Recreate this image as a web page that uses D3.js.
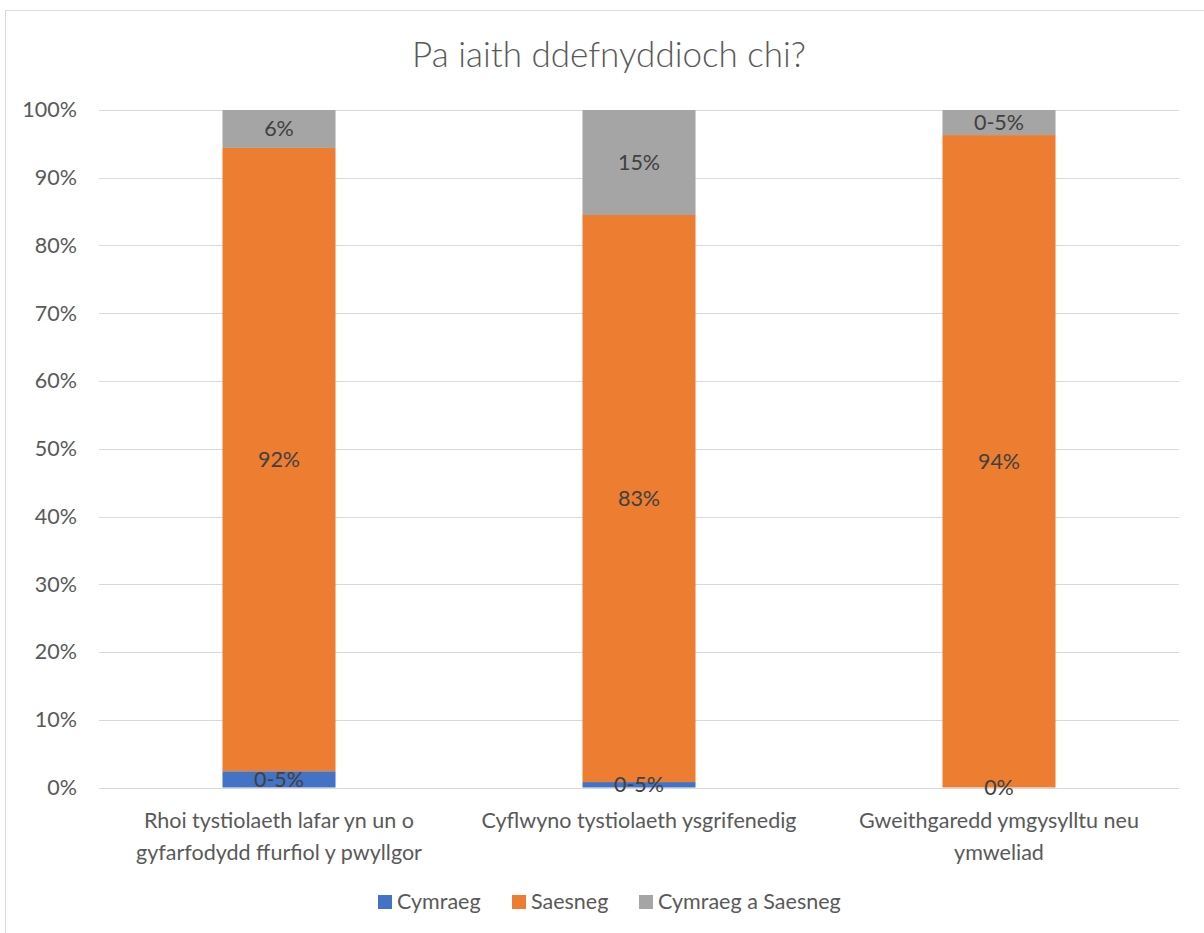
<!DOCTYPE html>
<html><head><meta charset="utf-8">
<script src="https://cdn.jsdelivr.net/npm/d3@7"></script>
<style>body{margin:0;background:#fff;} svg{display:block;}</style>
</head><body>
<svg id="c" width="1204" height="933"></svg>
<script>
const categories = [
  ["Rhoi tystiolaeth lafar yn un o", "gyfarfodydd ffurfiol y pwyllgor"],
  ["Cyflwyno tystiolaeth ysgrifenedig"],
  ["Gweithgaredd ymgysylltu neu", "ymweliad"]
];
const seriesNames = ["Cymraeg", "Saesneg", "Cymraeg a Saesneg"];
const cymraeg = [2.4, 0.8, 0];
const saesneg = [92.0, 83.7, 96.3];
const cymraegASaesneg = [5.6, 15.5, 3.7];
const labelsCymraeg = ["0-5%", "0-5%", "0%"];
const labelsSaesneg = ["92%", "83%", "94%"];
const labelsBoth = ["6%", "15%", "0-5%"];
const yTicks = [0,10,20,30,40,50,60,70,80,90,100];
const colors = ["#4472C4", "#ED7D31", "#A5A5A5"];

const font = "Lato, 'Open Sans', sans-serif";
const fs = "21.5px";
const svg = d3.select("#c");
svg.append("rect").attr("x",5.5).attr("y",10.5).attr("width",1220).attr("height",940)
  .attr("fill","#fff").attr("stroke","#D9D9D9").attr("stroke-width",1);

const x = d3.scaleBand().domain(d3.range(3)).range([99,1179]).paddingInner(0.686).paddingOuter(0.343);
const y = d3.scaleLinear().domain([0,100]).range([787.5,110]);

svg.append("g").selectAll("line").data(yTicks).join("line")
  .attr("x1",99).attr("x2",1179).attr("y1",d=>Math.round(y(d))+0.5).attr("y2",d=>Math.round(y(d))+0.5)
  .attr("stroke","#D9D9D9").attr("stroke-width",1);

const yAxis = d3.axisLeft(y).tickValues(yTicks).tickFormat(d=>d+"%").tickSize(0).tickPadding(0);
const ga = svg.append("g").attr("transform","translate(77,0)").call(yAxis);
ga.select(".domain").remove();
ga.selectAll("text").attr("font-family",font).attr("font-size",fs).attr("fill","#595959");

const data = d3.range(3).map(i=>({Cymraeg:cymraeg[i], Saesneg:saesneg[i], "Cymraeg a Saesneg":cymraegASaesneg[i]}));
const stack = d3.stack().keys(seriesNames)(data);
const labels = [labelsCymraeg, labelsSaesneg, labelsBoth];

stack.forEach((s,si)=>{
  svg.append("g").selectAll("rect").data(s).join("rect")
    .attr("x",(d,i)=>x(i)).attr("width",x.bandwidth())
    .attr("y",d=>y(d[1])).attr("height",d=>y(d[0])-y(d[1]))
    .attr("fill",colors[si]);
});
stack.forEach((s,si)=>{
  svg.append("g").selectAll("text").data(s).join("text")
    .attr("x",(d,i)=>x(i)+x.bandwidth()/2)
    .attr("y",d=>(y(d[0])+y(d[1]))/2)
    .attr("dy","0.35em").attr("text-anchor","middle")
    .attr("font-family",font).attr("font-size",fs).attr("fill","#404040")
    .text((d,i)=>labels[si][i]);
});

categories.forEach((lines,i)=>{
  const t = svg.append("text").attr("text-anchor","middle")
    .attr("font-family",font).attr("font-size",fs).attr("fill","#595959");
  lines.forEach((l,j)=>{
    t.append("tspan").attr("x",x(i)+x.bandwidth()/2).attr("y",828+j*32).text(l);
  });
});

svg.append("text").attr("x",609).attr("y",67).attr("text-anchor","middle")
  .attr("font-family",font).attr("font-size","35px").attr("font-weight",300).attr("fill","#595959")
  .text("Pa iaith ddefnyddioch chi?");

const legendX = [378, 512, 639];
seriesNames.forEach((n,i)=>{
  svg.append("rect").attr("x",legendX[i]).attr("y",895).attr("width",14).attr("height",14).attr("fill",colors[i]);
  svg.append("text").attr("x",legendX[i]+19).attr("y",909).attr("font-family",font).attr("font-size",fs)
    .attr("fill","#595959").text(n);
});
</script>
</body></html>
